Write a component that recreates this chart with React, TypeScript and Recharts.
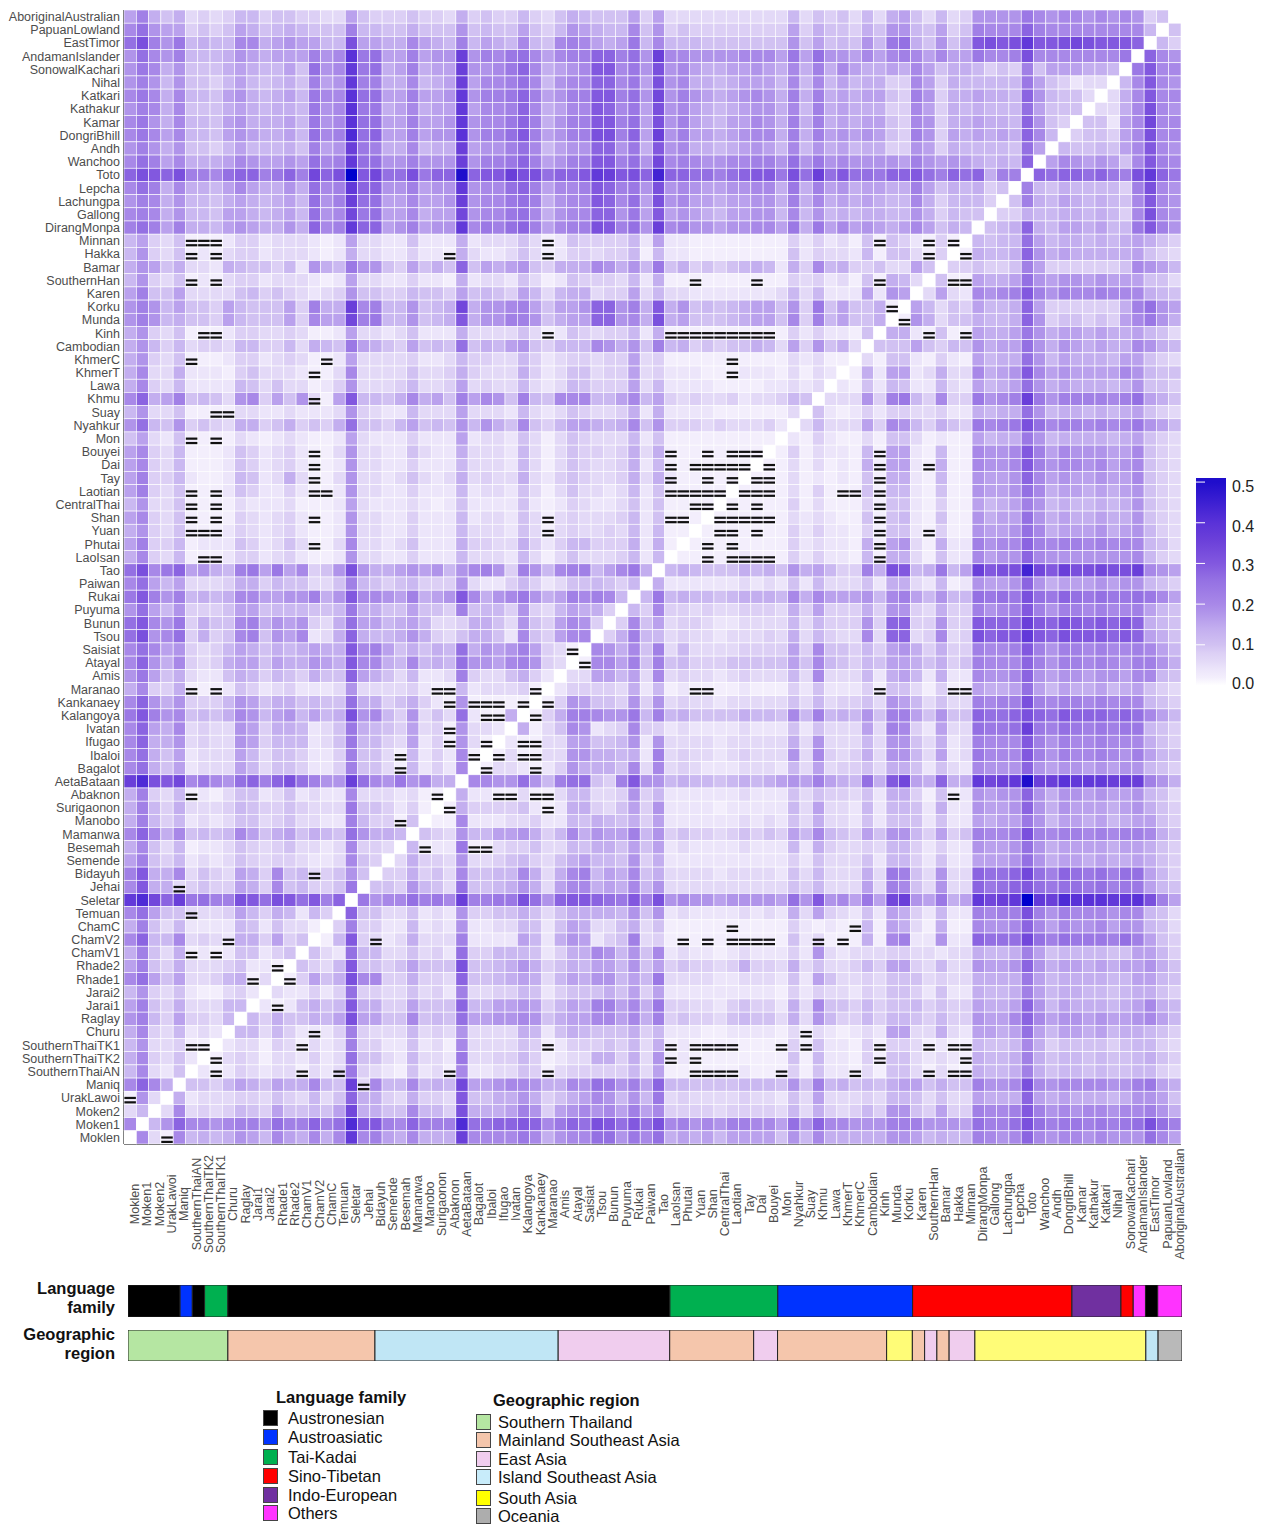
import React from "react";
import { ScatterChart, Scatter, XAxis, YAxis, BarChart, Bar } from "recharts";

// populations, top row of the matrix first (columns run the other way)
const populations = [
  "AboriginalAustralian", "PapuanLowland", "EastTimor", "AndamanIslander", "SonowalKachari", "Nihal", "Katkari", "Kathakur", "Kamar", "DongriBhill", "Andh", "Wanchoo", "Toto", "Lepcha", "Lachungpa", "Gallong", "DirangMonpa",
  "Minnan", "Hakka", "Bamar", "SouthernHan", "Karen", "Korku", "Munda", "Kinh", "Cambodian", "KhmerC", "KhmerT", "Lawa", "Khmu", "Suay", "Nyahkur", "Mon",
  "Bouyei", "Dai", "Tay", "Laotian", "CentralThai", "Shan", "Yuan", "Phutai", "LaoIsan", "Tao", "Paiwan", "Rukai", "Puyuma", "Bunun", "Tsou", "Saisiat", "Atayal", "Amis",
  "Maranao", "Kankanaey", "Kalangoya", "Ivatan", "Ifugao", "Ibaloi", "Bagalot", "AetaBataan", "Abaknon", "Surigaonon", "Manobo", "Mamanwa", "Besemah", "Semende", "Bidayuh", "Jehai", "Seletar", "Temuan",
  "ChamC", "ChamV2", "ChamV1", "Rhade2", "Rhade1", "Jarai2", "Jarai1", "Raglay", "Churu", "SouthernThaiTK1", "SouthernThaiTK2", "SouthernThaiAN", "Maniq", "UrakLawoi", "Moken2", "Moken1", "Moklen",
];
const columns = [...populations].reverse();

// Fst, in base 36 steps of 0.02. Each row runs from the
// Moklen column up to the diagonal, the other half of the matrix is its mirror.
const FST_STEP = 0.02;
const fstRows = [
  "8b75734346 6455443385 4445443745 4464357655 5848333333 3333635453 6378536349 999ca9aa9a 9a945",
  "ad98845458 75676555b6 6557555956 5585469876 6a59454444 4444847554 759965845b aaaebaaaaa aaa6",
  "dgb9c6766a a7898866g8 877a876b68 76a65aba87 8c6a666555 5555958565 96cd75957f gfgjffghgf ffe",
  "9da9b66679 87888b9akc d88b899i9b acda8abbee bd9iaa9999 aaa8c8d998 a8aba8a88c aabgaaaaaa ac",
  "9ca7955578 76685d9ajc d78b788i99 acea789aff ac9g9a8778 8987a7b7a8 7787a85776 454b588877 6",
  "9b96955468 65675b89jb b77a678i8a abda69aaee ac8g9a7767 8886a6a686 7744a84766 666c854233",
  "aca7a66589 76786caakd d88b889j9b bceb89bbff bd9h9b9878 9a97b7b787 8854b94778 776e96553",
  "9ba7a55578 76776c9akc c78a788j8a abea78aafe ac8g9a8767 8997a6b787 7744a84767 666d8555",
  "ac97a66589 77786c9akd d88b889j9a aceb79bbff bd8g9b8768 8a97b7b787 8854a94778 776e954",
  "aca8a66589 87786dabld e88b899k9b bdfb89bbgg be8i9b8878 9aa7b7b898 9854b94878 787ea6",
  "9b97955468 66675b89ic b77a677i89 9bda6899ee 9c7f9a7767 8986a69786 7744984766 665d8",
  "adb8a7778a 98898dabjd d99b999i9b bceb89bbff bd9haba99a abb9d9c9a9 9998b98987 676e",
  "egfegbbade ebcebhegqf hddgceepef figgdeefji fgemeeddbd effcgdidfd dceefdbede 7bb",
  "adb7a7768a 87797dabje e99b899j9a adeb8aabfe bc9g9a9889 9aa7c7b897 8877b85767 45",
  "9ba7966578 76786d9bid d88a889i9a acdb79aafe ad8g9a8878 8997b7a787 8766a74666 4",
  "aba7966588 76786d9ahc d88a788h9a acda79aaee 9c8f898768 8996a69676 7766974655",
  "bdb8b77689 87797eabje e89b899jac bdeb8abbgf bd9iab9989 9aa8c7c8a8 9878a8576",
  "6843511124 4233321283 3225222723 3353125444 4628221111 1111424231 51542141",
  "6943512134 4233321273 3224221732 2353124434 4616221111 1111524332 6155314",
  "7985733276 55462976c9 9548575e58 78954777a9 796c574545 676274a674 453385",
  "6943512134 4233321283 3224221723 3253125444 3627111111 1111434231 51763",
  "8b55833335 6454323495 5446554856 5486367734 4836332222 2223636222 8298",
  "9b96855486 55584b77ia b669567h79 9ab85889ee 9b7f795656 788594c585 571",
  "9b96755486 55584a88hb c669567f79 9bb95788ee 9a7g785556 7885a4b685 57",
  "7943511124 4334311283 3235222733 3353125434 4627111111 1111424221 5",
  "7964634436 64463765c8 7548565d57 68954666a9 795b674545 5763849573",
  "7943511124 4234311283 3334223644 3364234434 4834111111 111132311",
  "7a33722214 53332113a3 3335334743 3374235534 4834222111 22213132",
  "7a43622226 5353312493 3346334834 3363236544 4836222211 1122323",
  "ae78b56539 a4859318f6 657a785b8a 95b65aaa66 8a68434334 233465",
  "6933511113 3223222394 3226333833 3263235433 4727222211 11113",
  "9d65945437 74574547d5 5468565969 75a5468876 7a59444343 3342",
  "5832511113 2123211283 2224222823 3253135433 3625111111 111",
  "8a43611125 4234211393 3225322733 3263135443 4737111111 11",
  "8a43611125 4234211293 3224222633 3263135433 4726111111 1",
  "8b44621126 5237311393 3235323734 3373245433 4737211111",
  "8b43511125 4224211293 3224222623 3253135332 362511111",
  "6933511113 2223111283 2223212522 2252124322 35251111",
  "8a43511114 3234211293 3224222623 3253134333 4625111",
  "7943511124 3234211293 3224222633 3253134334 362611",
  "8b44612225 42353113a3 3235222744 3374246644 47271",
  "7a43611124 4234211293 3224222633 3263135333 4626",
  "dgace8976b c8c8a459g9 77898969ab 94b96abb68 ac7",
  "ad86833347 74655335b6 5456444932 2464235565 46",
  "cfb9b6767a a8899b79fa a98b789fa7 9ac978baba 6",
  "9d86944458 85666556c7 7558554b56 6494368774",
  "dfa9c4755a b7989437d8 8678633477 539548a94",
  "dg9ad4745a b598a237e7 6679743577 52a548aa",
  "ada8943468 75767877fa b857576d79 89b8431",
  "ae97a43478 85877987fa a76a676d99 8ab943",
  "9c85732257 64654755e8 7536223b43 35742",
  "7a44711125 4234222393 3334211623 3341",
  "ae97944469 85775655d7 7457421911 111",
  "cfb9a5657a 96896867g9 a649353d21 17",
  "ae87a34339 84776235c7 6548341933 2",
  "ae77934339 84666235c6 6438241931",
  "ad75823338 63554224b5 5316242a1",
  "ad75823338 63554224b5 5316242a",
  "ilgfhaca9d ebegdb99id a9c9a77",
  "7b43612135 52352322a3 332311",
  "7b64733346 54454333c5 54241",
  "7b64623235 53453322b6 4415",
  "aea7a5656a 85785765d9 776",
  "7a53612235 43453323a4 43",
  "8b54623235 43443223a5 4",
  "bf77a35438 74a5634595",
  "af77345448 74a56445c",
  "jlheicdbbg fdgfdfbe",
  "ad85533348 6476264",
  "7b53622226 525331",
  "ae66a34327 74845",
  "7b53712125 5245",
  "8b54733345 221",
  "ad85833467 13",
  "6943521134 2",
  "8b54733366",
  "9b6484436",
  "7a436232",
  "6933411",
  "7a4352",
  "6a325",
  "aea7",
  "193",
  "36",
  "a",
].map((row) => row.replace(/ /g, ""));

// cells holding the "=" mark: row name, then column numbers counted from Moklen
const markedCells: [string, number[]][] = [
  ["Minnan", [5, 6, 7, 34, 61, 65, 67]],
  ["Hakka", [5, 7, 26, 34, 65, 68]],
  ["SouthernHan", [5, 7, 46, 51, 61, 67, 68]],
  ["Korku", [62]],
  ["Munda", [63]],
  ["Kinh", [6, 7, 34, 44, 45, 46, 47, 48, 49, 50, 51, 52, 65, 68]],
  ["KhmerC", [5, 16, 49]],
  ["KhmerT", [15, 49]],
  ["Khmu", [15]],
  ["Suay", [7, 8]],
  ["Mon", [5, 7]],
  ["Bouyei", [15, 44, 47, 49, 50, 51, 61]],
  ["Dai", [15, 44, 46, 47, 48, 49, 50, 52, 61, 65]],
  ["Tay", [15, 44, 47, 49, 51, 52, 61]],
  ["Laotian", [5, 7, 15, 16, 44, 45, 46, 47, 48, 50, 51, 52, 58, 59, 61]],
  ["CentralThai", [5, 7, 46, 47, 49, 51, 61]],
  ["Shan", [5, 7, 15, 34, 44, 45, 48, 49, 50, 51, 52, 61]],
  ["Yuan", [5, 6, 7, 34, 48, 49, 51, 61, 65]],
  ["Phutai", [15, 47, 49, 61]],
  ["LaoIsan", [6, 7, 47, 49, 50, 51, 52, 61]],
  ["Saisiat", [36]],
  ["Atayal", [37]],
  ["Maranao", [5, 7, 25, 26, 33, 46, 47, 61, 67, 68]],
  ["Kankanaey", [26, 28, 29, 30, 32, 34]],
  ["Kalangoya", [29, 30, 33]],
  ["Ivatan", [26]],
  ["Ifugao", [26, 29, 32, 33]],
  ["Ibaloi", [22, 28, 30, 32, 33]],
  ["Bagalot", [22, 29, 33]],
  ["Abaknon", [5, 25, 30, 31, 33, 34, 67]],
  ["Surigaonon", [26, 34]],
  ["Manobo", [22]],
  ["Besemah", [24, 28, 29]],
  ["Bidayuh", [15]],
  ["Jehai", [4]],
  ["Temuan", [5]],
  ["ChamC", [49, 59]],
  ["ChamV2", [8, 20, 45, 47, 49, 50, 51, 52, 56, 58]],
  ["ChamV1", [5, 7]],
  ["Rhade2", [12]],
  ["Rhade1", [10, 13]],
  ["Jarai1", [12]],
  ["Churu", [15, 55]],
  ["SouthernThaiTK1", [5, 6, 14, 34, 44, 46, 47, 48, 49, 53, 55, 61, 65, 67, 68]],
  ["SouthernThaiTK2", [7, 44, 46, 61, 68]],
  ["SouthernThaiAN", [7, 14, 17, 26, 34, 46, 47, 48, 49, 53, 59, 65, 67, 68]],
  ["Maniq", [19]],
  ["UrakLawoi", [0]],
  ["Moklen", [3]],
];

// annotation strips, left to right: group and how many columns wide it is drawn
const familySegments: [string, number][] = [
  ["Austronesian", 4.25], ["Austroasiatic", 1], ["Austronesian", 1], ["Tai-Kadai", 1.9], ["Austronesian", 36.07], ["Tai-Kadai", 8.8], ["Austroasiatic", 11],
  ["Sino-Tibetan", 13], ["Indo-European", 4], ["Sino-Tibetan", 1], ["Others", 1], ["Austronesian", 1], ["Others", 1.98],
];
const regionSegments: [string, number][] = [
  ["Southern Thailand", 8.15], ["Mainland Southeast Asia", 12], ["Island Southeast Asia", 14.95], ["East Asia", 9.1], ["Mainland Southeast Asia", 6.85], ["East Asia", 1.95], ["Mainland Southeast Asia", 8.9],
  ["South Asia", 2.1], ["Mainland Southeast Asia", 1], ["East Asia", 1], ["Mainland Southeast Asia", 1], ["East Asia", 2.1], ["South Asia", 13.95], ["Island Southeast Asia", 1], ["Oceania", 1.95],
];

const familyNames = ["Austronesian", "Austroasiatic", "Tai-Kadai", "Sino-Tibetan", "Indo-European", "Others"];
const familyColors = ["#000000", "#0033ff", "#00b050", "#ff0000", "#7030a0", "#ff33ff"];
const familyLegendTops = [1410, 1429, 1449, 1468, 1487, 1505];
const regionNames = ["Southern Thailand", "Mainland Southeast Asia", "East Asia", "Island Southeast Asia", "South Asia", "Oceania"];
const regionColors = ["#b5e6a2", "#f5c6ac", "#f0cdee", "#c0e6f5", "#fffc77", "#b9b9b9"];
const regionSwatches = ["#b5e6a2", "#f5c6ac", "#f0cdee", "#c8ecfa", "#ffff00", "#adadad"];
const regionLegendTops = [1414, 1432, 1451, 1469, 1490, 1508];

const scaleTicks = [0, 0.1, 0.2, 0.3, 0.4, 0.5];
const scaleStops: [number, string][] = [
  [0, "#ffffff"], [0.02, "#f3eefc"], [0.04, "#ece5fa"], [0.06, "#e3d9f7"], [0.08, "#dccff5"], [0.1, "#d1c1f2"], [0.14, "#c3aeef"], [0.18, "#b094ea"],
  [0.2, "#a888e8"], [0.26, "#9470e3"], [0.3, "#8258df"], [0.36, "#6a3fd9"], [0.4, "#5a32d8"], [0.5, "#1f0dcc"], [0.52, "#0000cd"],
];

const N = populations.length;
const PLOT_LEFT = 124;
const PLOT_TOP = 10;
const PLOT_RIGHT = 1181;
const PLOT_BOTTOM = 1144;
const CELL_W = (PLOT_RIGHT - PLOT_LEFT) / N;
const CELL_H = (PLOT_BOTTOM - PLOT_TOP) / N;
const CHART_H = 1275;
const FONT = "'Liberation Sans', Arial, sans-serif";

function fstAt(row: number, col: number) {
  const other = N - 1 - col;
  if (other === row) return 0;
  const ch = other > row ? fstRows[row].charAt(col) : fstRows[other].charAt(N - 1 - row);
  return (parseInt(ch, 36) || 0) * FST_STEP;
}

function fstColor(value: number) {
  for (let i = 1; i < scaleStops.length; i++) {
    const [v1, c1] = scaleStops[i];
    if (value <= v1 + 1e-9) {
      const [v0, c0] = scaleStops[i - 1];
      const t = (value - v0) / (v1 - v0);
      const mix = [1, 3, 5].map((p) => {
        const a = parseInt(c0.slice(p, p + 2), 16);
        const b = parseInt(c1.slice(p, p + 2), 16);
        return Math.round(a + (b - a) * t);
      });
      return `rgb(${mix.join(",")})`;
    }
  }
  return "#0000cd";
}

const heatData: { x: number; y: number; value: number }[] = [];
populations.forEach((_, row) => {
  columns.forEach((__, col) => {
    heatData.push({ x: col + 0.5, y: row + 0.5, value: fstAt(row, col) });
  });
});

const markData = markedCells.flatMap(([name, cols]) =>
  cols.map((col) => ({ x: col + 0.5, y: populations.indexOf(name) + 0.5 }))
);

const axisTicks = populations.map((_, i) => i + 0.5);

const HeatCell = (props: any) => (
  <rect
    x={props.cx - CELL_W / 2}
    y={props.cy - CELL_H / 2}
    width={CELL_W}
    height={CELL_H}
    fill={fstColor(props.payload.value)}
    stroke="#ffffff"
    strokeWidth={0.6}
  />
);

const MarkGlyph = (props: any) => (
  <g fill="#111111">
    <rect x={props.cx - CELL_W / 2 + 0.4} y={props.cy - 1} width={CELL_W - 0.8} height={2.2} />
    <rect x={props.cx - CELL_W / 2 + 0.4} y={props.cy + 3.4} width={CELL_W - 0.8} height={2.2} />
  </g>
);

const ColumnTick = (props: any) => {
  const x = props.x + 5;
  const y = 1204;
  return (
    <text x={x} y={y} transform={`rotate(-90 ${x} ${y})`} textAnchor="middle" dominantBaseline="central" fontSize={12.5} fill="#4d4d4d" fontFamily={FONT}>
      {columns[Math.floor(props.payload.value)]}
    </text>
  );
};

const RowTick = (props: any) => (
  <text x={props.x - 2} y={props.y + 0.5} textAnchor="end" dominantBaseline="central" fontSize={12.5} fill="#4d4d4d" fontFamily={FONT}>
    {populations[Math.floor(props.payload.value)]}
  </text>
);

const ScaleTick = (props: any) => {
  const { x, y, payload } = props;
  return (
    <g>
      <line x1={x - 38} x2={x - 29} y1={y} y2={y} stroke="#ffffff" strokeWidth={1} />
      <text x={x - 2} y={y + 12 * payload.value - 1.5} dominantBaseline="central" fontSize={16} fill="#222222" fontFamily={FONT}>
        {payload.value.toFixed(1)}
      </text>
    </g>
  );
};

const Strip = ({ segments, names, colors, top, height }: { segments: [string, number][]; names: string[]; colors: string[]; top: number; height: number }) => {
  const row: Record<string, any> = { name: "strip" };
  segments.forEach(([, count], i) => {
    row[`s${i}`] = count;
  });
  return (
    <div style={{ position: "absolute", left: 128, top }}>
      <BarChart width={1054} height={height} data={[row]} layout="vertical" margin={{ top: 0, right: 0, bottom: 0, left: 0 }} barCategoryGap={0}>
        <XAxis type="number" domain={[0, N]} hide />
        <YAxis type="category" dataKey="name" hide />
        {segments.map(([name], i) => (
          <Bar key={i} dataKey={`s${i}`} stackId="strip" fill={colors[names.indexOf(name)]} stroke="#222222" strokeWidth={1} isAnimationActive={false} />
        ))}
      </BarChart>
    </div>
  );
};

const LegendBlock = ({ title, titleLeft, titleTop, names, colors, tops, left, textLeft }: { title: string; titleLeft: number; titleTop: number; names: string[]; colors: string[]; tops: number[]; left: number; textLeft: number }) => (
  <>
    <div style={{ position: "absolute", left: titleLeft, top: titleTop, fontSize: 16.5, fontWeight: 700, lineHeight: "18px", whiteSpace: "nowrap", color: "#111" }}>{title}</div>
    {names.map((name, i) => (
      <React.Fragment key={name}>
        <div style={{ position: "absolute", left, top: tops[i], width: 13, height: 14, background: colors[i], border: "1.5px solid #444" }} />
        <div style={{ position: "absolute", left: textLeft, top: tops[i] - 1, fontSize: 16.5, lineHeight: "18px", whiteSpace: "nowrap", color: "#111" }}>{name}</div>
      </React.Fragment>
    ))}
  </>
);

const StripLabel = ({ lines, top }: { lines: string[]; top: number }) => (
  <div style={{ position: "absolute", left: 0, width: 115, top, textAlign: "right", fontSize: 16.5, fontWeight: 700, lineHeight: "18.5px", color: "#111" }}>
    {lines.map((line) => (
      <div key={line}>{line}</div>
    ))}
  </div>
);

export default function App() {
  return (
    <div style={{ position: "absolute", left: 0, top: 0, width: 1264, height: 1525, background: "#fff", fontFamily: FONT, overflow: "hidden" }}>
      <ScatterChart width={1264} height={CHART_H} margin={{ top: PLOT_TOP, right: 1264 - PLOT_RIGHT, bottom: 0, left: 0 }}>
        <XAxis
          type="number"
          dataKey="x"
          domain={[0, N]}
          ticks={axisTicks}
          interval={0}
          height={CHART_H - PLOT_BOTTOM}
          tick={<ColumnTick />}
          tickLine={false}
          axisLine={{ stroke: "#111111", strokeWidth: 1.5 }}
        />
        <YAxis
          type="number"
          dataKey="y"
          domain={[0, N]}
          reversed
          ticks={axisTicks}
          interval={0}
          width={PLOT_LEFT}
          tick={<RowTick />}
          tickLine={false}
          tickSize={0}
          axisLine={{ stroke: "#111111", strokeWidth: 1.5 }}
        />
        <Scatter data={heatData} shape={HeatCell} isAnimationActive={false} />
        <Scatter data={markData} shape={MarkGlyph} isAnimationActive={false} />
      </ScatterChart>

      <div style={{ position: "absolute", left: 1196, top: 478 }}>
        <BarChart width={68} height={214} data={[{ name: "scale", range: [-0.016, 0.51] }]} margin={{ top: 0, right: 0, bottom: 0, left: 0 }} barCategoryGap={0}>
          <defs>
            <linearGradient id="fstScale" x1="0" y1="0" x2="0" y2="1">
              {scaleStops.filter(([v]) => v <= 0.51).reverse().map(([v, c]) => (
                <stop key={v} offset={(0.51 - v) / 0.526} stopColor={c} />
              ))}
            </linearGradient>
          </defs>
          <XAxis dataKey="name" hide />
          <YAxis orientation="right" type="number" domain={[-0.016, 0.51]} ticks={scaleTicks} interval={0} width={38} tick={<ScaleTick />} tickLine={false} axisLine={false} />
          <Bar dataKey="range" fill="url(#fstScale)" isAnimationActive={false} />
        </BarChart>
      </div>

      <StripLabel lines={["Language", "family"]} top={1279} />
      <Strip segments={familySegments} names={familyNames} colors={familyColors} top={1285} height={32} />
      <StripLabel lines={["Geographic", "region"]} top={1325} />
      <Strip segments={regionSegments} names={regionNames} colors={regionColors} top={1330} height={31} />

      <LegendBlock title="Language family" titleLeft={276} titleTop={1388} names={familyNames} colors={familyColors} tops={familyLegendTops} left={263} textLeft={288} />
      <LegendBlock title="Geographic region" titleLeft={493} titleTop={1391} names={regionNames} colors={regionSwatches} tops={regionLegendTops} left={476} textLeft={498} />
    </div>
  );
}
